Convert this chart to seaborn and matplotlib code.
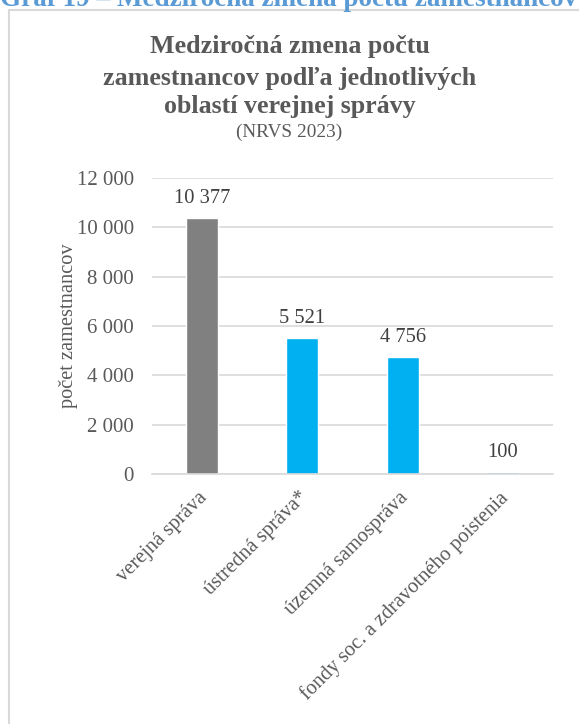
import matplotlib.pyplot as plt
import seaborn as sns
from matplotlib.lines import Line2D
from matplotlib.transforms import ScaledTranslation

categories = ['verejná správa', 'ústredná správa*', 'územná samospráva',
              'fondy soc. a zdravotného poistenia']
values = [10377, 5521, 4756, 100]
bar_colors = ['#808080', '#00B0F0', '#00B0F0', '#00B0F0']
yticks = [0, 2000, 4000, 6000, 8000, 10000, 12000]


def fmt(v):
    return f'{v:,}'.replace(',', ' ')


sns.set_style('white')
plt.rcParams['font.family'] = ['Liberation Serif', 'DejaVu Serif']

fig = plt.figure(figsize=(5.79, 7.24), dpi=100)
ax = fig.add_axes([0.2625, 0.3453, 0.6926, 0.4088])

sns.barplot(x=categories, y=values, hue=categories, palette=bar_colors,
            legend=False, width=0.32, saturation=1, ax=ax)

ax.set_ylim(0, 12000)
ax.set_xlim(-0.5, 3.5)
ax.set_yticks(yticks)
ax.set_yticklabels([fmt(t) for t in yticks], fontsize=15, color='#595959')
ax.yaxis.grid(True, color='#D9D9D9', lw=1.2)
ax.set_axisbelow(True)
for s in ['top', 'right', 'left']:
    ax.spines[s].set_visible(False)
ax.spines['bottom'].set_color('#D9D9D9')
ax.spines['bottom'].set_linewidth(1.2)
ax.tick_params(axis='y', length=0, pad=13)

ax.set_xticks(range(len(categories)))
ax.set_xticklabels(categories, rotation=45, ha='right', rotation_mode='anchor',
                   fontsize=14.8, color='#595959')
ax.tick_params(axis='x', length=0, pad=10)
# nudge the rotated labels a little to the left
shift = ScaledTranslation(-4 / 100, 0, fig.dpi_scale_trans)
for lbl in ax.get_xticklabels():
    lbl.set_transform(lbl.get_transform() + shift)
ax.set_xlabel('')
ax.set_ylabel('počet zamestnancov', fontsize=14.7, color='#595959')
ax.yaxis.set_label_coords(-0.185, 0.5)

for i, v in enumerate(values):
    ax.annotate(fmt(v), (i, v), xytext=(0, 7), textcoords='offset points',
                ha='center', va='bottom', fontsize=14.8, color='#404040')

# titles
fig.text(0.5, 1 - 47 / 724, 'Medziročná zmena počtu', ha='center', va='center',
         fontsize=18.7, fontweight='bold', color='#595959')
fig.text(0.5, 1 - 78 / 724, 'zamestnancov podľa jednotlivých', ha='center', va='center',
         fontsize=18.7, fontweight='bold', color='#595959')
fig.text(0.5, 1 - 107 / 724, 'oblastí verejnej správy', ha='center', va='center',
         fontsize=18.7, fontweight='bold', color='#595959')
fig.text(0.5, 1 - 132 / 724, '(NRVS 2023)', ha='center', va='center',
         fontsize=13.9, color='#595959')

# heading above the chart frame, cut by the image edge
fig.text(0, 1 - 6 / 724, 'Graf 19 – Medziročná zmena počtu zamestnancov',
         ha='left', va='baseline', fontsize=19.5, fontweight='bold', color='#5B9BD5')

# chart frame (left and top edges visible)
fig.add_artist(Line2D([9 / 579, 9 / 579], [0, 1 - 10 / 724], transform=fig.transFigure,
                      color='#D9D9D9', lw=1.5))
fig.add_artist(Line2D([9 / 579, 1], [1 - 10 / 724, 1 - 10 / 724], transform=fig.transFigure,
                      color='#D9D9D9', lw=1.5))

fig.savefig('out.png', dpi=100)
